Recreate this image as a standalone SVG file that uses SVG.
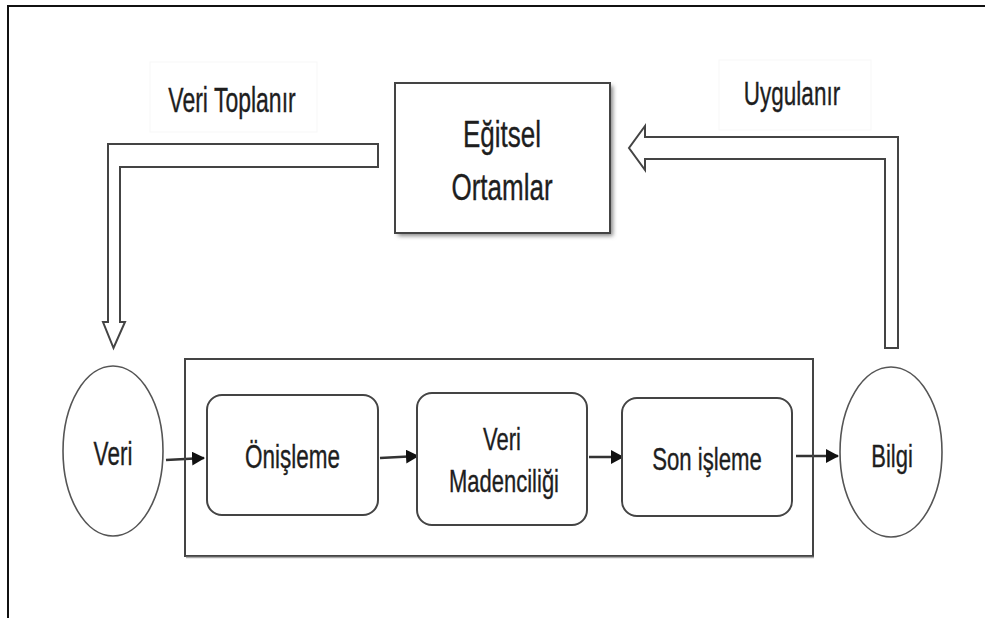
<svg xmlns="http://www.w3.org/2000/svg" width="985" height="618" viewBox="0 0 985 618">
  <defs>
    <style>
      .lbl { font-family: "Liberation Sans", Arial, sans-serif; fill: #1e1e1e; text-anchor: middle; stroke: #1e1e1e; stroke-width: 0.25; }
      .hollow { fill: #fff; stroke: #444; stroke-width: 2; stroke-linejoin: miter; }
      .rbox { fill: #fff; stroke: #444; stroke-width: 2; }
      .circ { fill: #fff; stroke: #555; stroke-width: 1.6; }
      .conn { stroke: #333; stroke-width: 2.5; fill: none; }
      .faint { fill: none; stroke: #f7f7f7; stroke-width: 1; }
    </style>
    <marker id="ah" markerWidth="13" markerHeight="14" refX="12" refY="7" orient="auto" markerUnits="userSpaceOnUse">
      <path d="M0,0 L13,7 L0,14 Z" fill="#111"/>
    </marker>
    <filter id="sh" x="-10%" y="-10%" width="130%" height="130%">
      <feGaussianBlur stdDeviation="2"/>
    </filter>
  </defs>

  <rect width="985" height="618" fill="#fff"/>

  <!-- outer frame (top and left only) -->
  <path d="M8,618 L8,6 L985,6" fill="none" stroke="#111" stroke-width="2"/>

  <!-- faint label boxes -->
  <rect class="faint" x="150" y="62" width="167" height="70"/>
  <rect class="faint" x="719" y="60" width="152" height="70"/>

  <!-- labels -->
  <g id="label-veri-toplanir">
    <text class="lbl" font-size="23" transform="translate(232,112) scale(1,1.5)">Veri Toplanır</text>
  </g>
  <g id="label-uygulanir">
    <text class="lbl" font-size="22.5" transform="translate(792,105) scale(1,1.5)">Uygulanır</text>
  </g>

  <!-- Eğitsel Ortamlar -->
  <g id="node-egitsel">
    <rect x="398" y="86" width="215" height="150" fill="#888" filter="url(#sh)"/>
    <rect x="395" y="83" width="215" height="150" fill="#fff" stroke="#444" stroke-width="2"/>
    <text class="lbl" font-size="26" transform="translate(502,147) scale(1,1.45)">Eğitsel</text>
    <text class="lbl" font-size="26" transform="translate(502,200) scale(1,1.45)">Ortamlar</text>
  </g>

  <!-- connectors -->
  <g id="connectors">
    <!-- hollow arrow: Eğitsel -> Veri -->
    <path class="hollow" d="M378,144 L108,144 L108,322 L103,322 L113.5,348 L125,322 L120,322 L120,167 L378,167 Z"/>
    <!-- hollow arrow: Bilgi -> Eğitsel -->
    <path class="hollow" d="M885,348 L898,348 L898,137 L645,137 L645,126 L629,148 L645,170 L645,159 L885,159 Z"/>
    <!-- process arrows -->
    <line class="conn" x1="166" y1="460" x2="204" y2="458" marker-end="url(#ah)"/>
    <line class="conn" x1="380" y1="458" x2="418" y2="456" marker-end="url(#ah)"/>
    <line class="conn" x1="589" y1="457" x2="623" y2="457" marker-end="url(#ah)"/>
    <line class="conn" x1="796" y1="456" x2="838" y2="456" marker-end="url(#ah)"/>
  </g>

  <!-- container -->
  <g id="node-process">
    <rect x="185" y="359" width="628" height="197" fill="none" stroke="#444" stroke-width="2"/>
    <path d="M186,557.5 L814,557.5" stroke="#aaa" stroke-width="1.5" fill="none"/>
  </g>

  <g id="node-veri">
    <ellipse class="circ" cx="113" cy="451" rx="50" ry="85"/>
    <text class="lbl" font-size="22.5" transform="translate(113,465) scale(1,1.45)">Veri</text>
  </g>

  <g id="node-onisleme">
    <rect class="rbox" x="207" y="395" width="171" height="120" rx="15"/>
    <text class="lbl" font-size="22.5" transform="translate(292.5,468) scale(1,1.45)">Önişleme</text>
  </g>

  <g id="node-madencilik">
    <rect class="rbox" x="417" y="393" width="170" height="132" rx="15"/>
    <text class="lbl" font-size="22" transform="translate(502,450) scale(1,1.45)">Veri</text>
    <text class="lbl" font-size="22" transform="translate(504,492) scale(1,1.45)">Madenciliği</text>
  </g>

  <g id="node-sonisleme">
    <rect class="rbox" x="622" y="398" width="170" height="118" rx="15"/>
    <text class="lbl" font-size="22.2" transform="translate(707,470) scale(1,1.45)">Son işleme</text>
  </g>

  <g id="node-bilgi">
    <ellipse class="circ" cx="891" cy="452" rx="51" ry="85"/>
    <text class="lbl" font-size="22" transform="translate(892,467) scale(1,1.45)">Bilgi</text>
  </g>
</svg>
